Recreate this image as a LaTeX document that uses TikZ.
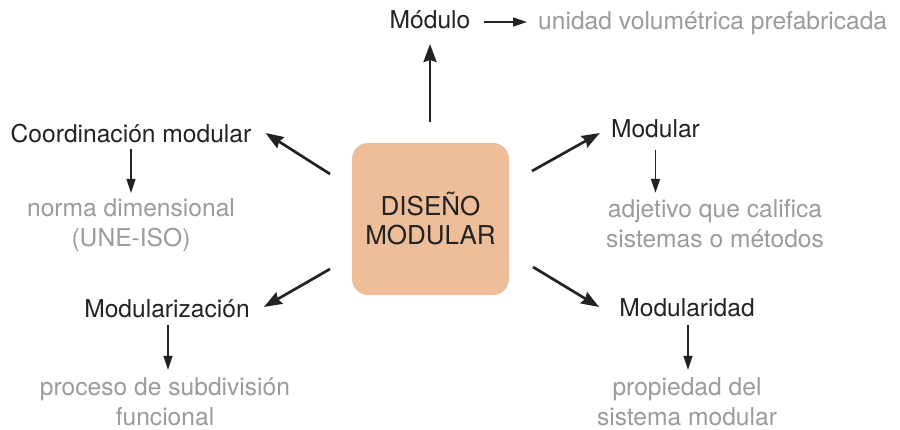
\documentclass[tikz,border=0pt]{standalone}
\usepackage{fontspec}
\setmainfont{TeX Gyre Heros}
\usetikzlibrary{arrows.meta,calc}
\definecolor{boxfill}{RGB}{237,190,153}
\definecolor{ink}{RGB}{35,35,35}
\definecolor{soft}{RGB}{155,155,155}

\begin{document}
\begin{tikzpicture}[x=1pt,y=-1pt,
  term/.style={inner sep=0pt, text=ink, font=\fontsize{24.6}{29}\selectfont, anchor=base},
  gloss/.style={inner sep=0pt, text=soft, align=center, font=\fontsize{24.6}{30}\selectfont, anchor=base},
  heavy/.style={draw=ink, line width=2.7pt, -{Stealth[length=18pt,width=13pt,inset=2pt]}},
  light/.style={draw=ink, line width=1.3pt, -{Triangle[length=14pt,width=9pt]}}]
\useasboundingbox (0,0) rectangle (900,429);

% central block
\node[fill=boxfill, rounded corners=16pt, minimum width=157pt, minimum height=152pt,
      inner sep=0pt, text=ink, align=center, font=\fontsize{26}{29}\selectfont]
      (core) at (430.5,219) {DISEÑO\\MODULAR};

% terms
\node[term] (mod)    at (430,28)  {Módulo};
\node[term] (coord)  at (131,142) {Coordinación modular};
\node[term] (modr)   at (655.5,137) {Modular};
\node[term] (mzn)    at (167,317) {Modularización};
\node[term] (mdad)   at (687,316) {Modularidad};

% definitions (anchored on the baseline of their last line)
\node[gloss, anchor=base west] (def0) at (538,29) {unidad volumétrica prefabricada};
\node[gloss] (def1) at (131,246) {norma dimensional\\(UNE-ISO)};
\node[gloss] (def2) at (715,247) {adjetivo que califica\\sistemas o métodos};
\node[gloss] (def3) at (165,425) {proceso de subdivisión\\funcional};
\node[gloss] (def4) at (687,425) {propiedad del\\sistema modular};

% start points of the heavy arrows around the block
\coordinate (sN)  at (430,122);
\coordinate (sNW) at (330,174);
\coordinate (sNE) at (532,171);
\coordinate (sSW) at (330,269);
\coordinate (sSE) at (533,267);

% heavy arrows from the block to the terms
\draw[heavy] (sN)  -- ($(mod.base)+(0,16)$);
\draw[heavy] (sNW) -- ($(coord.base east)+(14,-9)$);
\draw[heavy] (sNE) -- ($(modr.base west)+(-11,-4)$);
\draw[heavy] (sSW) -- ($(mzn.base east)+(14,-10)$);
\draw[heavy] (sSE) -- ($(mdad.base west)+(-20,-9)$);

% light arrows from the terms to their definitions
\draw[light] ($(mod.base east)+(13,-6)$) -- ($(def0.base west)+(-11,-7)$);
\draw[light] ($(coord.base)+(0,7)$) -- ($(coord.base|-def1.north)+(0,-5)$);
\draw[light] ($(modr.base)+(0,13)$) -- ($(modr.base|-def2.north)+(0,-6)$);
\draw[light] ($(mzn.base)+(1,8)$) -- ($(mzn.base|-def3.north)+(1,-7)$);
\draw[light] ($(mdad.base)+(1,9)$) -- ($(mdad.base|-def4.north)+(1,-7)$);
\end{tikzpicture}
\end{document}
